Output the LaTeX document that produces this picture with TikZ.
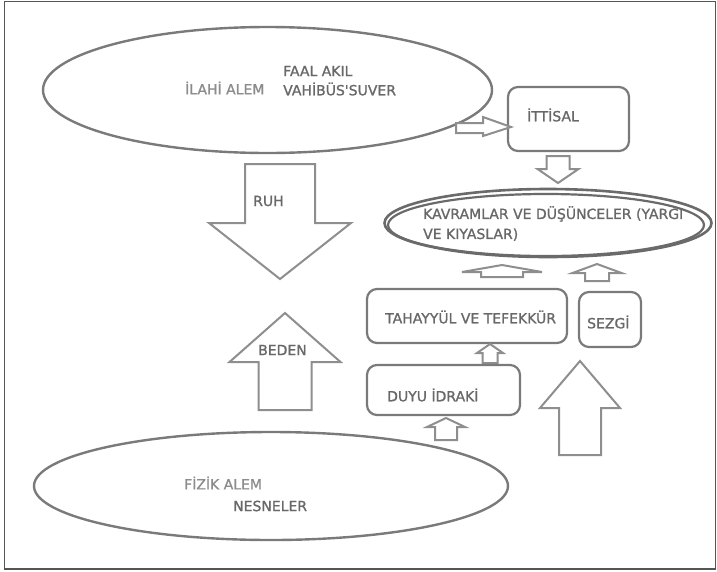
\documentclass[tikz,border=0pt]{standalone}
\usepackage{fontspec}
\setmainfont{DejaVu Sans}
\newfontfamily\comicf{DejaVu Sans}[FakeBold=1.2]
\usetikzlibrary{shapes.geometric}
\definecolor{lncol}{HTML}{7A7A7A}
\definecolor{arcol}{HTML}{8E8E8E}
\definecolor{txcol}{HTML}{686868}
\definecolor{lttx}{HTML}{8C8C8C}
\definecolor{kvcol}{HTML}{6A6A6A}
\definecolor{frcol}{HTML}{555555}
\newcommand\blkV[6]{\draw[barrow] ({#1-#5},#2) -- ({#1-#5},#4) -- ({#1-#6},#4) -- (#1,#3) -- ({#1+#6},#4) -- ({#1+#5},#4) -- ({#1+#5},#2) -- cycle;}
\begin{document}
\begin{tikzpicture}[x=1pt,y=-1pt,
  oval/.style={ellipse,draw=lncol,line width=2.4pt,inner sep=0pt},
  rbox/.style={draw=lncol,line width=2.2pt,rounded corners=10pt},
  barrow/.style={draw=arcol,line width=2pt,line join=miter,fill=white},
  lbl/.style={anchor=west,inner sep=0pt,text=txcol,font=\comicf\fontsize{14}{20}\selectfont},
  ltlbl/.style={lbl,text=lttx}]
\useasboundingbox (0,0) rectangle (717,571);
\draw[frcol,line width=1.4pt] (4.5,1.5) rectangle (715.5,569);
% top ellipse
\node[oval,minimum width=449pt,minimum height=126pt] (ilahi) at (267.5,90) {};
\node[ltlbl] (ilahit) at (185,88) {İLAHİ ALEM};
\node[lbl] (faal) at (283,71) {FAAL AKIL};
\node[lbl] (vahi) at (283,89) {VAHİBÜS'SUVER};
% ittisal
\draw[rbox] (508,87) rectangle (629,151);
\node[lbl] (itt) at (527,115) {İTTİSAL};
\draw[barrow] (456,123) -- (483,123) -- (483,117) -- (511,127) -- (483,136) -- (483,133) -- (456,133) -- cycle;
\blkV{558}{156}{183}{169}{11.5}{20.5}
% kavramlar
\node[ellipse,draw=kvcol,line width=2.6pt,minimum width=327pt,minimum height=68pt] (kavr) at (548,223) {};
\draw[kvcol,line width=2.2pt] (546,225) ellipse [x radius=158, y radius=31];
\node[lbl,anchor=north west,align=left] (kavt) at (423,206) {KAVRAMLAR VE DÜŞÜNCELER (YARGI\\VE KIYASLAR)};
% ruh / beden
\blkV{280}{164}{279}{223}{35}{71}
\node[lbl] (ruh) at (253,201) {RUH};
\blkV{285}{410}{313}{362}{26.5}{55.5}
\node[lbl] (beden) at (258,350) {BEDEN};
% small arrows
\blkV{502}{277}{265}{272}{21}{40}
\blkV{597}{281}{264}{273}{12}{24.5}
% tahayyul, sezgi
\draw[rbox] (367,289) rectangle (567,343);
\node[lbl] (tah) at (385,317) {TAHAYYÜL VE TEFEKKÜR};
\draw[rbox] (579,292) rectangle (641,347);
\node[lbl] (sez) at (587,322) {SEZGİ};
\blkV{490}{363}{344}{353}{7.5}{13}
% duyu
\draw[rbox] (367,365) rectangle (520,415);
\node[lbl] (duyu) at (387,395) {DUYU İDRAKİ};
\blkV{446}{440}{418}{427}{11}{19}
\blkV{580}{455}{361}{408}{21}{40}
% bottom ellipse
\node[oval,minimum width=474pt,minimum height=108pt] (fizik) at (271,486) {};
\node[ltlbl] (fizikt) at (184,483) {FİZİK ALEM};
\node[lbl] (nesn) at (233,506) {NESNELER};
\end{tikzpicture}
\end{document}
